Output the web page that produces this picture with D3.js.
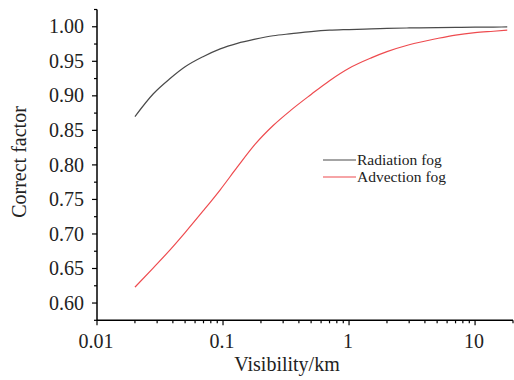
<!DOCTYPE html>
<html><head><meta charset="utf-8">
<script src="https://cdn.jsdelivr.net/npm/d3@7"></script>
<style>
html,body{margin:0;padding:0;background:#fff;}
svg{display:block;font-family:"Liberation Serif","Times New Roman",serif;}
</style></head>
<body>
<svg id="chart" width="514" height="380"></svg>
<script>
const visibility = [0.02, 0.028, 0.038, 0.05, 0.07, 0.095, 0.13, 0.18, 0.25, 0.35, 0.5, 0.7, 1, 1.5, 2, 3, 5, 7, 10, 14, 18];
const radiationFog = [0.870, 0.903, 0.925, 0.942, 0.957, 0.968, 0.976, 0.982, 0.987, 0.990, 0.993, 0.995, 0.996, 0.997, 0.9977, 0.9983, 0.9988, 0.9991, 0.9994, 0.9996, 0.9997];
const advectionFog = [0.623, 0.651, 0.677, 0.702, 0.734, 0.764, 0.797, 0.830, 0.857, 0.880, 0.902, 0.922, 0.940, 0.955, 0.964, 0.974, 0.983, 0.988, 0.9915, 0.9935, 0.995];
const seriesNames = ["Radiation fog", "Advection fog"];
const xTickValues = [0.01, 0.1, 1, 10];
const xTickLabels = ["0.01", "0.1", "1", "10"];
const yTickValues = [0.60, 0.65, 0.70, 0.75, 0.80, 0.85, 0.90, 0.95, 1.00];
const xTitle = "Visibility/km";
const yTitle = "Correct factor";

const svg = d3.select("#chart");
const x = d3.scaleLog().domain([0.01, 20]).range([97, 513]);
const y = d3.scaleLinear().domain([0.575, 1.025]).range([320.3, 9.5]);
const x0 = 97, yBase = 320.3;

// minor ticks
const xMinor = [];
[0.01, 0.1, 1, 10].forEach(d => { for (let k = 2; k <= 9; k++) { const v = d * k; if (v <= 20) xMinor.push(v); } });
const yMinor = d3.range(0.575, 1.026, 0.05).map(v => +v.toFixed(3));

const g = svg.append("g");
// Axis lines
g.append("line").attr("x1", x0).attr("x2", x0).attr("y1", y(1.025)).attr("y2", yBase).attr("stroke", "#000").attr("stroke-width", 1.5);
g.append("line").attr("x1", x0).attr("x2", 513).attr("y1", yBase).attr("y2", yBase).attr("stroke", "#000").attr("stroke-width", 1.5);

// y ticks
g.selectAll(".ymaj").data(yTickValues).enter().append("line")
  .attr("x1", x0 - 5).attr("x2", x0).attr("y1", d => y(d)).attr("y2", d => y(d)).attr("stroke", "#000").attr("stroke-width", 1.2);
g.selectAll(".ymin").data(yMinor).enter().append("line")
  .attr("x1", x0 - 3).attr("x2", x0).attr("y1", d => y(d)).attr("y2", d => y(d)).attr("stroke", "#000").attr("stroke-width", 1.2);
g.selectAll(".ylab").data(yTickValues).enter().append("text")
  .attr("x", 84).attr("y", d => y(d)).attr("dy", "0.33em").attr("text-anchor", "end")
  .attr("font-size", 20).attr("fill", "#222").text(d => d.toFixed(2));

// x ticks
g.selectAll(".xmaj").data(xTickValues).enter().append("line")
  .attr("x1", d => x(d)).attr("x2", d => x(d)).attr("y1", yBase).attr("y2", yBase + 5).attr("stroke", "#000").attr("stroke-width", 1.2);
g.selectAll(".xmin").data(xMinor).enter().append("line")
  .attr("x1", d => x(d)).attr("x2", d => x(d)).attr("y1", yBase).attr("y2", yBase + 3).attr("stroke", "#000").attr("stroke-width", 1.2);
g.selectAll(".xlab").data(xTickValues).enter().append("text")
  .attr("x", (d) => x(d) - 1).attr("y", 348).attr("text-anchor", "middle")
  .attr("font-size", 20).attr("fill", "#222").text((d, i) => xTickLabels[i]);

// titles
svg.append("text").attr("x", 287).attr("y", 371).attr("text-anchor", "middle").attr("font-size", 20).attr("fill", "#222").text(xTitle);
svg.append("text").attr("transform", "translate(26,162) rotate(-90)").attr("text-anchor", "middle").attr("font-size", 20).attr("fill", "#222").text(yTitle);

// lines
const colors = ["#4a4a4a", "#ee4b4f"];
const line = d3.line().x(d => x(d[0])).y(d => y(d[1])).curve(d3.curveMonotoneX);
[radiationFog, advectionFog].forEach((vals, i) => {
  svg.append("path").datum(visibility.map((v, j) => [v, vals[j]]))
    .attr("d", line).attr("fill", "none").attr("stroke", colors[i]).attr("stroke-width", 1.2);
});

// legend
const legY = [160, 177];
seriesNames.forEach((name, i) => {
  svg.append("line").attr("x1", 323).attr("x2", 356).attr("y1", legY[i]).attr("y2", legY[i]).attr("stroke", colors[i]).attr("stroke-width", 1.2);
  svg.append("text").attr("x", 357).attr("y", legY[i]).attr("dy", "0.33em").attr("font-size", 15.5).attr("fill", "#222").text(name);
});
</script>
</body></html>
